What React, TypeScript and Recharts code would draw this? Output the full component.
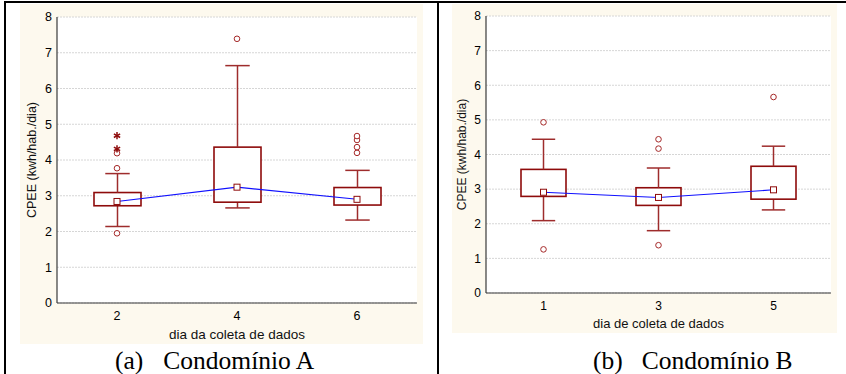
import { ComposedChart, Bar, Line, Scatter, XAxis, YAxis, CartesianGrid } from "recharts";

// ---- Condomínio A ----
const daysA = ["2", "4", "6"];
const lowA = [2.14, 2.66, 2.32];
const q1A = [2.72, 2.82, 2.74];
const medA = [2.84, 3.24, 2.9];
const q3A = [3.09, 4.36, 3.23];
const highA = [3.62, 6.64, 3.71];
const outDaysA = ["2", "2", "2", "4", "6", "6", "6", "6"];
const outValsA = [1.95, 3.77, 4.19, 7.39, 4.2, 4.36, 4.56, 4.67];
const extDaysA = ["2", "2"];
const extValsA = [4.31, 4.68];

// ---- Condomínio B ----
const daysB = ["1", "3", "5"];
const lowB = [2.09, 1.8, 2.4];
const q1B = [2.79, 2.53, 2.71];
const medB = [2.91, 2.76, 2.98];
const q3B = [3.57, 3.04, 3.66];
const highB = [4.44, 3.61, 4.24];
const outDaysB = ["1", "1", "3", "3", "3", "5"];
const outValsB = [1.26, 4.93, 1.38, 4.17, 4.44, 5.66];

const yTicks = [0, 1, 2, 3, 4, 5, 6, 7, 8];

const BEIGE = "#fdf9ee";
const FRAME = "#3a3a3a";
const GRID = "#d6d6d6";
const RED = "#8e0b0b";
const WHISK = "#9e2c2c";
const BLUE = "#1010ff";

const buildRows = (days: string[], low: number[], q1: number[], med: number[], q3: number[], high: number[]) =>
  days.map((day, i) => ({
    day,
    base: low[i],
    lw: q1[i] - low[i],
    box: q3[i] - q1[i],
    uw: high[i] - q3[i],
    med: med[i],
  }));

const buildPoints = (days: string[], vals: number[]) => days.map((day, i) => ({ day, v: vals[i] }));

const LowWhisker = (p: any) => {
  const cx = p.x + p.width / 2;
  const cap = p.width * 0.26;
  return (
    <g stroke={WHISK} strokeWidth={1.5}>
      <line x1={cx} x2={cx} y1={p.y} y2={p.y + p.height} />
      <line x1={cx - cap} x2={cx + cap} y1={p.y + p.height} y2={p.y + p.height} />
    </g>
  );
};

const HighWhisker = (p: any) => {
  const cx = p.x + p.width / 2;
  const cap = p.width * 0.26;
  return (
    <g stroke={WHISK} strokeWidth={1.5}>
      <line x1={cx} x2={cx} y1={p.y} y2={p.y + p.height} />
      <line x1={cx - cap} x2={cx + cap} y1={p.y} y2={p.y} />
    </g>
  );
};

const BoxRect = (p: any) => (
  <rect x={p.x} y={p.y} width={p.width} height={p.height} fill="#fff" stroke={RED} strokeWidth={1.6} />
);

const MedianDot = (p: any) => {
  if (p.cx == null || p.cy == null) return <g key={p.index} />;
  return <rect key={p.index} x={p.cx - 3} y={p.cy - 3} width={6} height={6} fill="#fff" stroke={RED} strokeWidth={1} />;
};

const OutCircle = (p: any) => <circle cx={p.cx} cy={p.cy} r={2.8} fill="#fff" stroke="#a52828" strokeWidth={1} />;

const Star = (p: any) => {
  const r = 3.6;
  return (
    <g stroke={RED} strokeWidth={1.5}>
      <line x1={p.cx} y1={p.cy - r} x2={p.cx} y2={p.cy + r} />
      <line x1={p.cx - r * 0.87} y1={p.cy - r * 0.5} x2={p.cx + r * 0.87} y2={p.cy + r * 0.5} />
      <line x1={p.cx - r * 0.87} y1={p.cy + r * 0.5} x2={p.cx + r * 0.87} y2={p.cy - r * 0.5} />
    </g>
  );
};

type Geo = {
  left: number; top: number; width: number; height: number;
  mt: number; mr: number; yw: number; xh: number; barSize: number;
  yLabelOffset: number; tickFont: number; xLabelFont: number; yLabelFont: number;
};

const BoxPanel = ({ rows, outliers, extremes, xLabel, geo }: { rows: any[]; outliers: any[]; extremes: any[]; xLabel: string; geo: Geo }) => (
  <div style={{ position: "absolute", left: geo.left, top: geo.top, width: geo.width, height: geo.height, background: BEIGE }}>
    <ComposedChart width={geo.width} height={geo.height} data={rows} margin={{ top: geo.mt, right: geo.mr, left: 0, bottom: 0 }}>
      <CartesianGrid vertical={false} stroke={GRID} strokeDasharray="2 1" fill="#fff" fillOpacity={1} />
      <XAxis
        dataKey="day"
        height={geo.xh}
        allowDuplicatedCategory={false}
        tickLine={false}
        axisLine={{ stroke: FRAME, strokeWidth: 1.2 }}
        tick={{ fontSize: geo.tickFont, fill: "#000" }}
        label={{ value: xLabel, position: "insideBottom", offset: 4.7, style: { fontSize: geo.xLabelFont, fill: "#111" } }}
      />
      <XAxis xAxisId="top" orientation="top" dataKey="day" height={0} allowDuplicatedCategory={false} tick={false} mirror tickSize={3} axisLine={{ stroke: FRAME, strokeWidth: 1.2 }} tickLine={{ stroke: FRAME }} />
      <YAxis
        domain={[0, 8]}
        ticks={yTicks}
        interval={0}
        width={geo.yw}
        tickLine={false}
        tickSize={3}
        tickMargin={2}
        axisLine={{ stroke: FRAME, strokeWidth: 1.2 }}
        tick={{ fontSize: geo.tickFont, fill: "#000" }}
        label={{ value: "CPEE (kwh/hab./dia)", angle: -90, position: "insideLeft", offset: geo.yLabelOffset, style: { textAnchor: "middle", fontSize: geo.yLabelFont, fill: "#111" } }}
      />
      <YAxis yAxisId="right" orientation="right" domain={[0, 8]} ticks={yTicks} interval={0} width={0} tick={false} mirror tickSize={3} axisLine={{ stroke: FRAME, strokeWidth: 1.2 }} tickLine={{ stroke: FRAME }} />
      <Bar dataKey="base" stackId="s" barSize={geo.barSize} fill="none" shape={() => <g />} isAnimationActive={false} />
      <Bar dataKey="lw" stackId="s" barSize={geo.barSize} shape={LowWhisker} isAnimationActive={false} />
      <Bar dataKey="box" stackId="s" barSize={geo.barSize} shape={BoxRect} isAnimationActive={false} />
      <Bar dataKey="uw" stackId="s" barSize={geo.barSize} shape={HighWhisker} isAnimationActive={false} />
      <Line dataKey="med" stroke={BLUE} strokeWidth={1.1} dot={MedianDot} activeDot={false} isAnimationActive={false} />
      <Scatter data={outliers} dataKey="v" shape={OutCircle} isAnimationActive={false} />
      {extremes.length > 0 && <Scatter data={extremes} dataKey="v" shape={Star} isAnimationActive={false} />}
    </ComposedChart>
  </div>
);

const geoA: Geo = { left: 20, top: 4, width: 403, height: 340, mt: 13, mr: 6, yw: 37, xh: 41, barSize: 47, yLabelOffset: 11.7, tickFont: 12.5, xLabelFont: 13.5, yLabelFont: 12.5 };
const geoB: Geo = { left: 452, top: 4, width: 385, height: 329, mt: 12, mr: 6, yw: 34, xh: 40, barSize: 45, yLabelOffset: 10, tickFont: 12, xLabelFont: 13, yLabelFont: 12 };

const captionStyle = { position: "absolute" as const, top: 348, fontFamily: "'Liberation Serif', 'Times New Roman', serif", fontSize: 25.5, lineHeight: "25px", color: "#000", whiteSpace: "nowrap" as const };

export default function App() {
  return (
    <div style={{ position: "absolute", left: 0, top: 0, width: 846, height: 374, background: "#fff", overflow: "hidden", fontFamily: "'Liberation Sans', Arial, sans-serif" }}>
      <div style={{ position: "absolute", left: 4, top: 1, width: 842, height: 2, background: "#000" }} />
      <div style={{ position: "absolute", left: 4, top: 1, width: 2, height: 373, background: "#000" }} />
      <div style={{ position: "absolute", left: 437, top: 1, width: 2, height: 373, background: "#000" }} />
      <BoxPanel rows={buildRows(daysA, lowA, q1A, medA, q3A, highA)} outliers={buildPoints(outDaysA, outValsA)} extremes={buildPoints(extDaysA, extValsA)} xLabel="dia da coleta de dados" geo={geoA} />
      <BoxPanel rows={buildRows(daysB, lowB, q1B, medB, q3B, highB)} outliers={buildPoints(outDaysB, outValsB)} extremes={[]} xLabel="dia de coleta de dados" geo={geoB} />
      <div style={{ ...captionStyle, left: 115 }}>
        <span>(a)</span>
        <span style={{ marginLeft: 20 }}>Condomínio A</span>
      </div>
      <div style={{ ...captionStyle, left: 593 }}>
        <span>(b)</span>
        <span style={{ marginLeft: 19 }}>Condomínio B</span>
      </div>
    </div>
  );
}
